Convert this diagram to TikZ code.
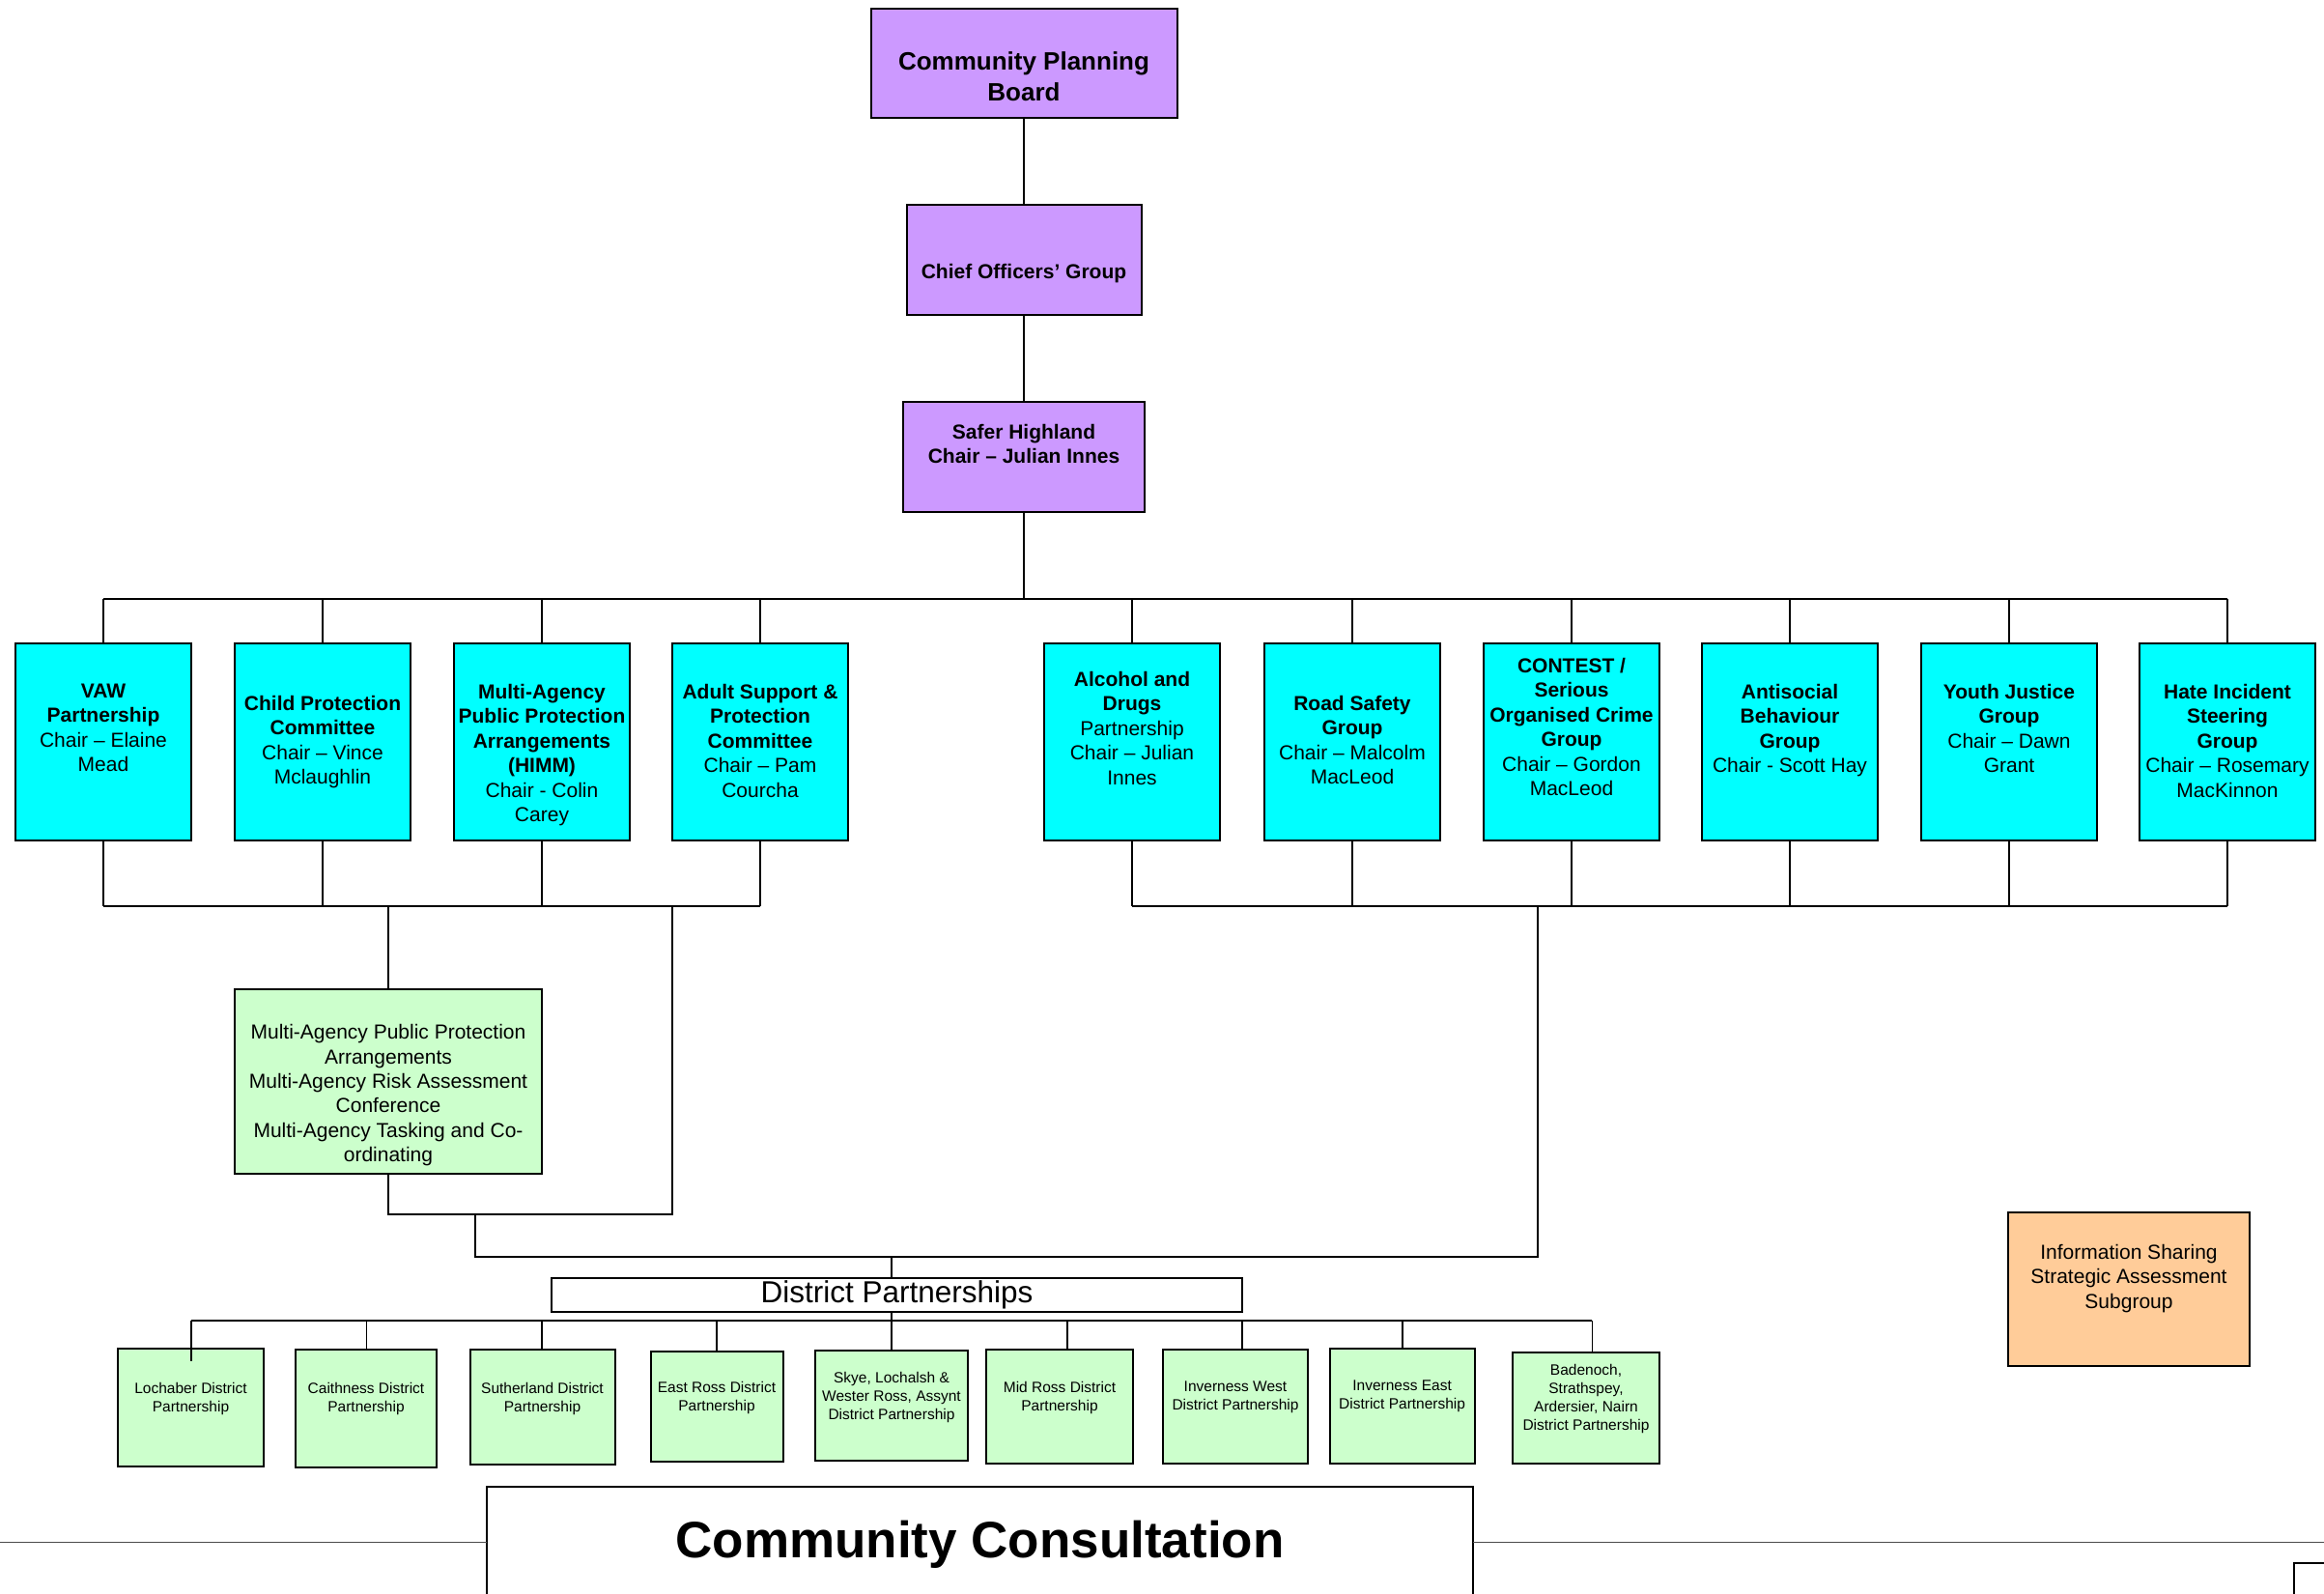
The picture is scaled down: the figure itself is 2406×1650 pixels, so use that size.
\documentclass[tikz,border=0pt]{standalone}
\usepackage{fontspec}
\setmainfont{Liberation Sans}
\definecolor{lilac}{HTML}{CC99FF}
\definecolor{aqua}{HTML}{00FFFF}
\definecolor{mint}{HTML}{CCFFCC}
\definecolor{peach}{HTML}{FFCC99}
\begin{document}
\begin{tikzpicture}[x=0.5pt,y=-0.5pt,
  box/.style={draw, line width=1pt, inner sep=0pt, outer sep=0pt},
  conn/.style={line width=0.9pt},
  lbl/.style={inner sep=0pt, outer sep=0pt, align=center, anchor=north},
  purp/.style={box, fill=lilac},
  cy/.style={box, fill=aqua, minimum width=91pt, minimum height=102pt},
  grn/.style={box, fill=mint},
  fcpb/.style={font=\fontsize{13pt}{16pt}\selectfont\bfseries},
  fhead/.style={font=\fontsize{10.5pt}{12.6pt}\selectfont\bfseries},
  fcy/.style={font=\fontsize{10.5pt}{12.75pt}\selectfont},
  fmap/.style={font=\fontsize{10.5pt}{12.7pt}\selectfont},
  fdp/.style={font=\fontsize{15.75pt}{18pt}\selectfont},
  fdis/.style={font=\fontsize{7.75pt}{9.5pt}\selectfont},
  fcc/.style={font=\fontsize{26.5pt}{30pt}\selectfont\bfseries}
]
\useasboundingbox (0,0) rectangle (2406,1650);

% ---------- top chain ----------
\node[purp, minimum width=158.5pt, minimum height=56.5pt] (cpb) at (1060,65) {};
\node[lbl, fcpb] at (1060,54) {Community Planning\\Board};
\node[purp, minimum width=121.5pt, minimum height=56.75pt] (cog) at (1060,269) {};
\node[lbl, fhead] at (1060,272.8) {Chief Officers’ Group};
\node[purp, minimum width=125pt, minimum height=56.75pt] (safer) at (1060,472.8) {};
\node[lbl, fhead] at (1060,438.8) {Safer Highland\\Chair – Julian Innes};

% ---------- cyan groups ----------
\node[cy] (vaw) at (107,768) {};
\node[lbl, fcy] at (107,708) {\textbf{VAW}\\\textbf{Partnership}\\Chair – Elaine\\Mead};
\node[cy] (cp) at (334,768) {};
\node[lbl, fcy] at (334,720) {\textbf{Child Protection}\\\textbf{Committee}\\Chair – Vince\\Mclaughlin};
\node[cy] (ma) at (561,768) {};
\node[lbl, fcy] at (561,708) {\textbf{Multi-Agency}\\\textbf{Public Protection}\\\textbf{Arrangements}\\\textbf{(HIMM)}\\Chair - Colin\\Carey};
\node[cy] (as) at (787,768) {};
\node[lbl, fcy] at (787,708) {\textbf{Adult Support \&}\\\textbf{Protection}\\\textbf{Committee}\\Chair – Pam\\Courcha};
\node[cy] (alc) at (1172,768) {};
\node[lbl, fcy] at (1172,695) {\textbf{Alcohol and}\\\textbf{Drugs}\\Partnership\\Chair – Julian\\Innes};
\node[cy] (road) at (1400,768) {};
\node[lbl, fcy] at (1400,720) {\textbf{Road Safety}\\\textbf{Group}\\Chair – Malcolm\\MacLeod};
\node[cy] (contest) at (1627,768) {};
\node[lbl, fcy] at (1627,681) {\textbf{CONTEST /}\\\textbf{Serious}\\\textbf{Organised Crime}\\\textbf{Group}\\Chair – Gordon\\MacLeod};
\node[cy] (anti) at (1853,768) {};
\node[lbl, fcy] at (1853,708) {\textbf{Antisocial}\\\textbf{Behaviour}\\\textbf{Group}\\Chair - Scott Hay};
\node[cy] (youth) at (2080,768) {};
\node[lbl, fcy] at (2080,708) {\textbf{Youth Justice}\\\textbf{Group}\\Chair – Dawn\\Grant};
\node[cy] (hate) at (2306,768) {};
\node[lbl, fcy] at (2306,708) {\textbf{Hate Incident}\\\textbf{Steering}\\\textbf{Group}\\Chair – Rosemary\\MacKinnon};

% ---------- MAPPA ----------
\node[grn, minimum width=159pt, minimum height=95.5pt] (mappa) at (402,1119.5) {};
\node[lbl, fmap] at (402,1060.5) {Multi-Agency Public Protection\\Arrangements\\Multi-Agency Risk Assessment\\Conference\\Multi-Agency Tasking and Co-\\ordinating};

% ---------- District partnerships ----------
\node[box, minimum width=357.5pt, minimum height=17.5pt, fdp] (dp) at (928.5,1340.5) {District Partnerships};

\node[grn, minimum width=75.5pt, minimum height=61pt] (loch) at (197.5,1457) {};
\node[lbl, fdis] at (197.5,1431) {Lochaber District\\Partnership};
\node[grn, minimum width=73pt, minimum height=61pt] (caith) at (379,1458) {};
\node[lbl, fdis] at (379,1431.6) {Caithness District\\Partnership};
\node[grn, minimum width=75pt, minimum height=59.5pt] (suth) at (561.5,1456.5) {};
\node[lbl, fdis] at (561.5,1431) {Sutherland District\\Partnership};
\node[grn, minimum width=68.5pt, minimum height=57pt] (eross) at (742,1456) {};
\node[lbl, fdis] at (742,1430.3) {East Ross District\\Partnership};
\node[grn, minimum width=79pt, minimum height=57pt] (skye) at (923,1455) {};
\node[lbl, fdis] at (923,1420) {Skye, Lochalsh \&\\Wester Ross, Assynt\\District Partnership};
\node[grn, minimum width=75.75pt, minimum height=59pt] (mid) at (1097,1456) {};
\node[lbl, fdis] at (1097,1430) {Mid Ross District\\Partnership};
\node[grn, minimum width=75pt, minimum height=59pt] (invw) at (1279,1456) {};
\node[lbl, fdis] at (1279,1430.3) {Inverness West\\District Partnership};
\node[grn, minimum width=75pt, minimum height=59.5pt] (inve) at (1451.6,1455.5) {};
\node[lbl, fdis] at (1451.6,1429.3) {Inverness East\\District Partnership};
\node[grn, minimum width=75.75pt, minimum height=57.5pt] (bad) at (1642,1457.5) {};
\node[lbl, fdis] at (1642,1412) {Badenoch,\\Strathspey,\\Ardersier, Nairn\\District Partnership};

% ---------- info sharing ----------
\node[box, fill=peach, minimum width=125pt, minimum height=79.5pt] (info) at (2204,1334.5) {};
\node[lbl, fcy] at (2204,1288) {Information Sharing\\Strategic Assessment\\Subgroup};

% ---------- community consultation ----------
\node[box, line width=0.9pt, minimum width=510.5pt, minimum height=81pt] (cc) at (1014.5,1620) {};
\node[inner sep=0pt, anchor=base, fcc] (cctext) at (1014.5,1612) {Community Consultation};
\node[box, line width=0.9pt, anchor=north west, minimum width=40pt, minimum height=30pt] (corner) at (2375,1618) {};
\coordinate (cl) at (0,1596);
\coordinate (cr) at (2406,1596);
\draw[black!70, line width=0.5pt] (cl) -- (cl -| cc.west);
\draw[black!70, line width=0.5pt] (cc.east |- cr) -- (cr);

% ---------- connectors ----------
\coordinate (jtop) at (1060,620);
\coordinate (jbot) at (0,938);
\draw[conn] (cpb.south) -- (cog.north);
\draw[conn] (cog.south) -- (safer.north);
\draw[conn] (safer.south) -- (jtop);
\draw[conn] (vaw.north |- jtop) -- (hate.north |- jtop);
\foreach \n in {vaw,cp,ma,as,alc,road,contest,anti,youth,hate}{
  \draw[conn] (\n.north |- jtop) -- (\n.north);
  \draw[conn] (\n.south) -- (\n.south |- jbot);
}
\draw[conn] (vaw.south |- jbot) -- (as.south |- jbot);
\draw[conn] (alc.south |- jbot) -- (hate.south |- jbot);

\draw[conn] (mappa.north |- jbot) -- (mappa.north);
\coordinate (m1) at (696,938);
\coordinate (m2) at (696,1257);
\draw[conn] (mappa.south) -- (mappa.south |- m2) -- (m2) -- (m1);
\coordinate (n1) at (492,1257);
\coordinate (n2) at (492,1301);
\coordinate (n3) at (1592,1301);
\coordinate (n4) at (1592,938);
\draw[conn] (n1) -- (n2) -- (n3) -- (n4);
\coordinate (n5) at (923,1301);
\draw[conn] (n5) -- (n5 |- dp.north);

\coordinate (dbL) at (197.7,1367);
\coordinate (dbR) at (1648.4,1367);
\draw[conn] (dbL) -- (dbR);
\draw[conn] (n5 |- dp.south) -- (skye.north);
\draw[conn] (dbL) -- ++(0,42);
\foreach \n/\x in {caith/379.5, suth/561, eross/741.7, mid/1105, invw/1286, inve/1452, bad/1648.4}{
  \coordinate (tmp) at (\x,1367);
  \draw[conn] (tmp) -- (tmp |- \n.north);
}
\end{tikzpicture}
\end{document}
